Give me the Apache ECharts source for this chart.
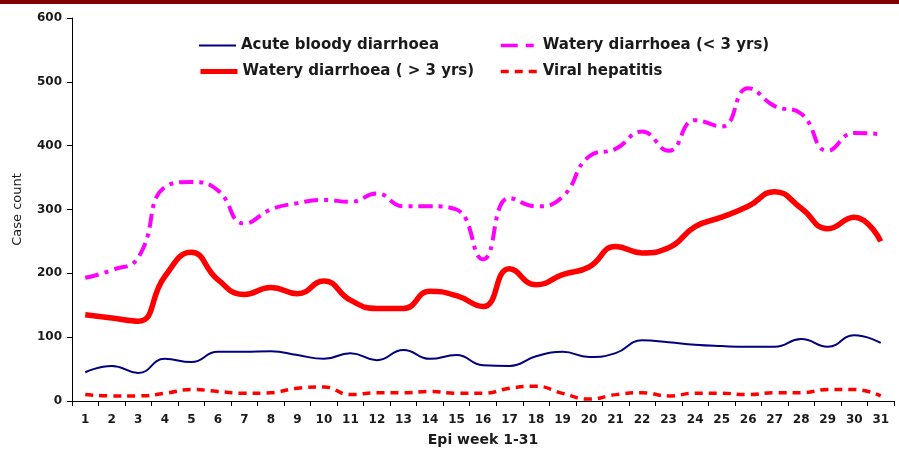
<!DOCTYPE html>
<html>
<head>
<meta charset="utf-8">
<script src="https://cdn.jsdelivr.net/npm/echarts@6/dist/echarts.min.js"></script>
<style>
  html, body { margin: 0; padding: 0; background: #fff; }
  #chart { width: 899px; height: 450px; }
</style>
</head>
<body>
<div id="chart"></div>
<script>
// epi weeks 1..31
const weeks = [];
for (let i = 1; i <= 31; i++) weeks.push(String(i));

const acuteBloody = [45, 55, 44, 66, 61, 77, 77, 78, 72, 66, 75, 64, 80, 66, 72, 56,
  55, 70, 77, 69, 75, 95, 92, 88, 86, 85, 85, 97, 85, 103, 91];
const wateryUnder3 = [193, 205, 225, 335, 343, 330, 278, 300, 310, 315, 312, 325, 305, 305, 300, 222,
  318, 305, 320, 383, 395, 422, 392, 440, 430, 490, 462, 450, 392, 420, 418];
const wateryOver3 = [135, 130, 125, 195, 233, 190, 167, 178, 168, 188, 158, 145, 145, 172, 165, 148,
  207, 182, 198, 210, 242, 232, 240, 273, 288, 305, 328, 302, 270, 288, 250];
const viralHep = [10, 8, 8, 12, 18, 15, 12, 13, 20, 22, 10, 13, 13, 15, 12, 12,
  20, 23, 12, 3, 10, 13, 8, 12, 12, 10, 13, 13, 18, 18, 8];

const yTicks = [0, 100, 200, 300, 400, 500, 600];

const FONT = "DejaVu Sans";

const chart = echarts.init(document.getElementById("chart"));

// one legend per item so the two columns line up
function legendAt(name, left, top, lineWidth, dash) {
  return {
    data: [name],
    left: left,
    top: top,
    itemWidth: 37,
    itemHeight: 10,
    itemStyle: { opacity: 0 }, // hide the round marker, keep the line
    lineStyle: { width: lineWidth, type: dash },
    textStyle: { fontFamily: FONT, fontSize: 15, fontWeight: "bold", color: "#1a1a1a" }
  };
}

const option = {
  animation: false,
  backgroundColor: "#fff",
  textStyle: { fontFamily: FONT },
  graphic: [
    { type: "rect", left: 0, top: 0, shape: { width: 899, height: 4 }, style: { fill: "#800000" } }
  ],
  legend: [
    legendAt("Acute bloody diarrhoea", 193, 33, 2, "solid"),
    legendAt("Watery diarrhoea (< 3 yrs)", 494, 33, 3.5, [17, 8, 8, 8]),
    legendAt("Watery diarrhoea ( > 3 yrs)", 193, 59, 5, "solid"),
    legendAt("Viral hepatitis", 494, 59, 3.5, [8, 6])
  ],
  grid: { left: 72, right: 5, top: 18, bottom: 49, outerBoundsMode: "none" },
  xAxis: {
    type: "category",
    data: weeks,
    name: "Epi week 1-31",
    nameLocation: "middle",
    nameGap: 32,
    nameTextStyle: { fontFamily: FONT, fontSize: 14, fontWeight: "bold", color: "#1a1a1a" },
    axisLine: { lineStyle: { color: "#000", width: 1 } },
    axisTick: { show: true, length: 5, lineStyle: { color: "#000" } },
    axisLabel: { fontFamily: FONT, fontSize: 12, fontWeight: "bold", color: "#1a1a1a", margin: 13, interval: 0 },
    splitLine: { show: false }
  },
  yAxis: {
    type: "value",
    min: yTicks[0],
    max: yTicks[yTicks.length - 1],
    interval: 100,
    name: "Case count",
    nameLocation: "middle",
    nameGap: 48,
    nameRotate: 90,
    nameTextStyle: { fontFamily: FONT, fontSize: 13, color: "#1a1a1a" },
    axisLine: { show: true, lineStyle: { color: "#000", width: 1 } },
    axisTick: { show: true, length: 5, lineStyle: { color: "#000" } },
    axisLabel: { fontFamily: FONT, fontSize: 12, fontWeight: "bold", color: "#1a1a1a", margin: 10 },
    splitLine: { show: false }
  },
  series: [
    {
      name: "Acute bloody diarrhoea",
      type: "line",
      data: acuteBloody,
      smooth: 0.5,
      symbol: "none",
      color: "#000080",
      lineStyle: { color: "#000080", width: 2 }
    },
    {
      name: "Watery diarrhoea (< 3 yrs)",
      type: "line",
      data: wateryUnder3,
      smooth: 0.5,
      symbol: "none",
      color: "#ff00ff",
      lineStyle: { color: "#ff00ff", width: 4, type: [14, 6, 4, 6] }
    },
    {
      name: "Watery diarrhoea ( > 3 yrs)",
      type: "line",
      data: wateryOver3,
      smooth: 0.5,
      symbol: "none",
      color: "#ff0000",
      lineStyle: { color: "#ff0000", width: 5.5 }
    },
    {
      name: "Viral hepatitis",
      type: "line",
      data: viralHep,
      smooth: 0.5,
      symbol: "none",
      color: "#ff0000",
      lineStyle: { color: "#ff0000", width: 3.5, type: [8, 6] }
    }
  ]
};

chart.setOption(option);
</script>
</body>
</html>
